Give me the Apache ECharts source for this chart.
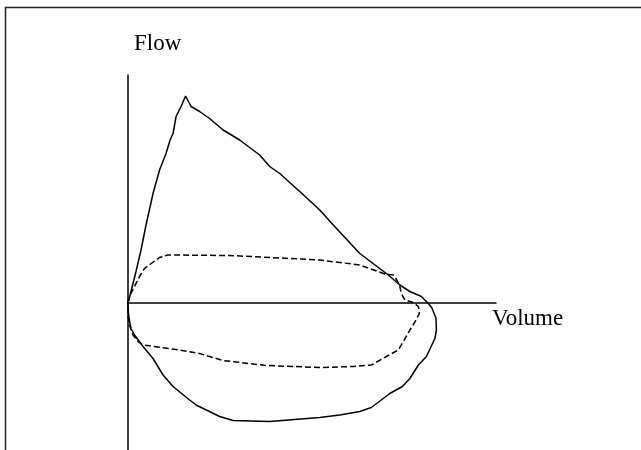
<!DOCTYPE html>
<html>
<head>
<meta charset="utf-8">
<script src="https://cdn.jsdelivr.net/npm/echarts@6/dist/echarts.min.js"></script>
<style>
html,body{margin:0;padding:0;background:#fff;}
#chart{width:641px;height:450px;}
</style>
</head>
<body>
<div id="chart"></div>
<script>
// Axis titles
const xAxisTitle = 'Volume';
const yAxisTitle = 'Flow';

// Solid loop (volume, flow) — traced clockwise from the origin
const solidVolume = [0, 0.06, 0.16, 0.26, 0.36, 0.50, 0.63, 0.76, 0.84, 0.90, 0.96, 1.06, 1.15,
  1.26, 1.43, 1.63, 1.90, 2.23, 2.63, 2.83, 3.03, 3.43, 3.83, 4.10, 4.63, 5.20, 5.43, 5.63, 5.86, 6.00,
  6.07, 6.15, 6.16, 6.13, 5.96, 5.80, 5.63, 5.48, 5.23, 4.86, 4.63, 4.23, 3.83, 2.83, 2.10,
  1.83, 1.36, 1.23, 0.90, 0.70, 0.50, 0.30, 0.13, 0.06, 0.02, 0.00, 0];
const solidFlow = [0, 0.23, 0.63, 1.06, 1.56, 2.19, 2.66, 2.99, 3.26, 3.39, 3.73, 3.93, 4.14,
  3.93, 3.83, 3.69, 3.46, 3.26, 2.96, 2.73, 2.59, 2.23, 1.86, 1.56, 0.99, 0.56, 0.36, 0.23, 0.13, -0.01,
  -0.10, -0.30, -0.54, -0.71, -1.07, -1.24, -1.51, -1.67, -1.81, -2.09, -2.17, -2.24, -2.29, -2.37, -2.35,
  -2.27, -2.04, -1.94, -1.67, -1.44, -1.11, -0.87, -0.64, -0.51, -0.31, -0.11, 0];

// Dashed loop (volume, flow)
const dashedVolume = [0, 0.04, 0.13, 0.23, 0.33, 0.46, 0.63, 0.80, 2.03, 3.83, 4.63, 5.13, 5.30,
  5.37, 5.43, 5.46, 5.53, 5.70, 5.80, 5.82, 5.73, 5.63, 5.50, 5.40, 5.16, 4.86, 4.50, 3.83,
  2.76, 1.90, 1.43, 0.96, 0.30, 0.20, 0.10, 0.03, 0.00, 0];
const dashedFlow = [0, 0.16, 0.33, 0.53, 0.69, 0.79, 0.91, 0.96, 0.95, 0.86, 0.76, 0.58, 0.56,
  0.46, 0.33, 0.19, 0.06, 0.01, -0.07, -0.21, -0.38, -0.54, -0.77, -0.94, -1.07, -1.24, -1.27, -1.29,
  -1.25, -1.15, -1.01, -0.93, -0.84, -0.77, -0.64, -0.44, -0.24, 0];

const pairs = (xs, ys) => xs.map((x, i) => [x, ys[i]]);

const chart = echarts.init(document.getElementById('chart'), null, {renderer: 'canvas'});
const serif = '"Liberation Serif", "Times New Roman", serif';

chart.setOption({
  animation: false,
  backgroundColor: '#ffffff',
  grid: {left: 128, right: 145, top: 75, bottom: 0, containLabel: false},
  xAxis: {
    type: 'value', min: 0, max: 7.35,
    name: xAxisTitle, nameLocation: 'end', nameGap: -4,
    nameTextStyle: {fontFamily: serif, fontSize: 23, color: '#000', align: 'left', verticalAlign: 'top', padding: [4, 0, 0, 0]},
    axisLine: {show: true, onZero: true, lineStyle: {color: '#000', width: 1.5}},
    axisTick: {show: false}, axisLabel: {show: false}, splitLine: {show: false}
  },
  yAxis: {
    type: 'value', min: -2.94, max: 4.56,
    name: yAxisTitle, nameLocation: 'end', nameGap: 20,
    nameTextStyle: {fontFamily: serif, fontSize: 23, color: '#000', align: 'left', verticalAlign: 'bottom', padding: [0, 0, 0, 6]},
    axisLine: {show: true, onZero: false, lineStyle: {color: '#000', width: 1.5}},
    axisTick: {show: false}, axisLabel: {show: false}, splitLine: {show: false}
  },
  graphic: [{
    type: 'rect', silent: true, z: -1,
    shape: {x: 5.5, y: 7.5, width: 1000, height: 1000},
    style: {fill: 'none', stroke: '#222', lineWidth: 1.5}
  }],
  series: [{
    type: 'line', data: pairs(solidVolume, solidFlow), showSymbol: false, symbol: 'none',
    lineStyle: {color: '#000', width: 1.5}, clip: false
  }, {
    type: 'line', data: pairs(dashedVolume, dashedFlow), showSymbol: false, symbol: 'none',
    lineStyle: {color: '#000', width: 1.5, type: [6, 3]}, clip: false
  }]
});
</script>
</body>
</html>
